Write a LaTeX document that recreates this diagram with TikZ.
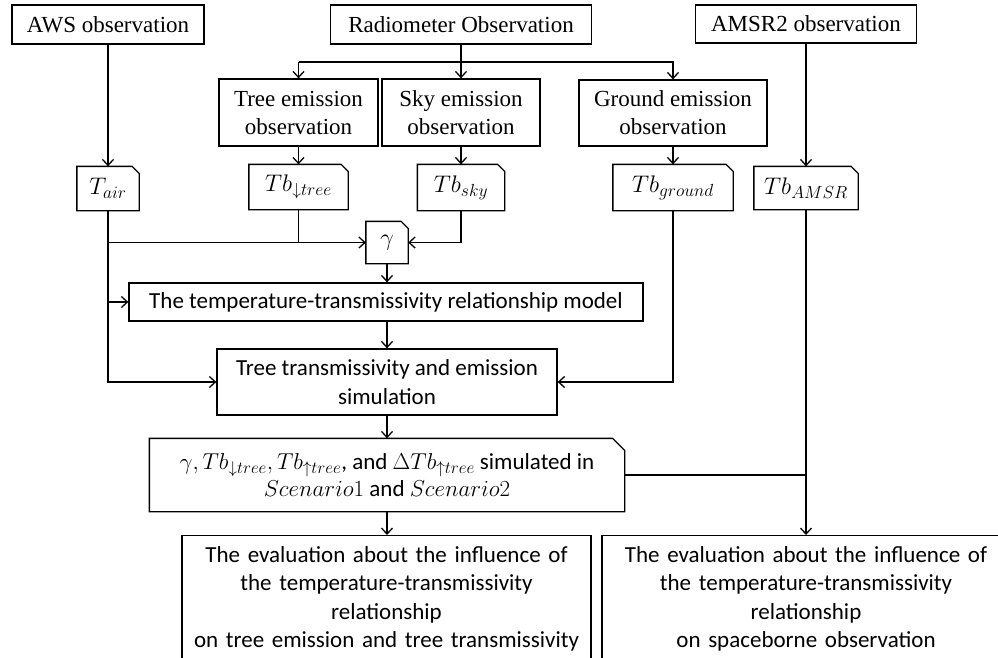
\RequirePackage{fix-cm}
\documentclass[tikz,border=0pt]{standalone}
\usepackage{fontspec}
\setmainfont{Liberation Serif}
\newfontfamily\calib{Carlito}
\DeclareMathSizes{24}{24}{17.5}{13}
\DeclareMathSizes{23}{23}{17}{12.5}
\usetikzlibrary{arrows.meta}
\begin{document}
\begin{tikzpicture}[x=1pt,y=-1pt, line width=1.3pt,
  arr/.style={-{Straight Barb[length=6pt,width=11pt,line width=1.3pt]}},
  obs/.style={draw, rectangle, font=\fontsize{23}{28}\selectfont, align=center, inner sep=0pt},
  dat/.style={rectangle, inner sep=0pt, font=\fontsize{24}{28}\selectfont},
  cal/.style={draw, rectangle, inner sep=0pt, font=\calib\fontsize{23}{28.3}\selectfont, align=center},
]
\useasboundingbox (0,0) rectangle (998,657);
\clip (0,0) rectangle (998,657);
\fill[white] (0,0) rectangle (998,657);

% observation boxes
\node[obs, minimum width=192pt, minimum height=39pt] (aws) at (108,24.5) {AWS observation};
\node[obs, minimum width=261pt, minimum height=39pt] (rad) at (461,24.5) {Radiometer Observation};
\node[obs, minimum width=221pt, minimum height=38pt] (amsr) at (806,24) {AMSR2 observation};
\node[obs, minimum width=159pt, minimum height=67pt] (tree) at (298.5,112.5) {Tree emission\\observation};
\node[obs, minimum width=158pt, minimum height=67pt] (sky) at (461,112.5) {Sky emission\\observation};
\node[obs, minimum width=188pt, minimum height=66pt] (ground) at (673,113) {Ground emission\\observation};

% data nodes
\node[dat, minimum width=61pt, minimum height=43pt] (tair) at (108,188.5) {$T_{air}$};
\node[dat, minimum width=98pt, minimum height=44pt] (tbtree) at (298.5,187) {$Tb_{\downarrow tree}$};
\node[dat, minimum width=86pt, minimum height=45pt] (tbsky) at (461,187.5) {$Tb_{sky}$};
\node[dat, minimum width=119pt, minimum height=45pt] (tbground) at (673,187.5) {$Tb_{ground}$};
\node[dat, minimum width=103pt, minimum height=42pt] (tbamsr) at (806,188) {$Tb_{AMSR}$};
\node[dat, minimum width=41pt, minimum height=41pt] (gamma) at (387,242.5) {$\gamma$};

% process boxes
\node[cal, minimum width=514pt, minimum height=38pt] (model) at (386,302) {The temperature-transmissivity relationship model};
\node[cal, minimum width=340pt, minimum height=66pt] (sim) at (387,382) {Tree transmissivity and emission\\simulation};
\node[rectangle, inner sep=0pt, align=center, font=\calib\fontsize{23}{27}\selectfont,
      minimum width=474pt, minimum height=72pt] (scen) at (387,475)
      {$\gamma, Tb_{\downarrow tree}, Tb_{\uparrow tree}$, and $\Delta Tb_{\uparrow tree}$ simulated in\\ $Scenario1$ and $Scenario2$};
\node[cal, anchor=north, text width=409pt, inner ysep=11pt] (evalL) at (386.5,535)
      {The evaluation about the influence of\\the temperature-transmissivity\\relationship\\on tree emission and tree transmissivity};
\node[cal, anchor=north, text width=408pt, inner ysep=11pt] (evalR) at (806,535)
      {The evaluation about the influence of\\the temperature-transmissivity\\relationship\\on spaceborne observation};

% folded-corner outlines
\foreach \n/\c in {tair/7,tbtree/7,tbsky/7,tbground/7,tbamsr/7,gamma/7,scen/12}
  \draw (\n.south west) -- (\n.north west) -- ([xshift=-\c pt]\n.north east)
        -- ([yshift=-\c pt]\n.north east) -- (\n.south east) -- cycle;

% connectors
\coordinate (bar) at (461,62);
\draw[arr] (rad.south) -- (sky.north);
\draw[arr] (bar -| tree.north) -- (tree.north);
\draw[arr] (bar -| tree.north) -- (bar -| ground.north) -- (ground.north);
\draw[arr] (aws.south) -- (tair.north);
\draw[arr] (amsr.south) -- (tbamsr.north);
\draw[arr] (tree.south) -- (tbtree.north);
\draw[arr] (sky.south) -- (tbsky.north);
\draw[arr] (ground.south) -- (tbground.north);
\draw[arr] (tair.south) |- (sim.west);
\draw[arr] (tair.south |- gamma.west) -- (gamma.west);
\draw[arr] (tair.south |- model.west) -- (model.west);
\draw (tbtree.south) -- (tbtree.south |- gamma.west);
\draw[arr] (tbsky.south) |- (gamma.east);
\draw[arr] (gamma.south) -- (gamma.south |- model.north);
\draw[arr] (model.south -| sim.north) -- (sim.north);
\draw[arr] (tbground.south) |- (sim.east);
\draw[arr] (sim.south) -- (scen.south |- scen.north);
\draw[arr] (scen.south) -- (scen.south |- evalL.north);
\draw (scen.east) -- (scen.east -| tbamsr.south);
\draw[arr] (tbamsr.south) -- (evalR.north);
\end{tikzpicture}
\end{document}
